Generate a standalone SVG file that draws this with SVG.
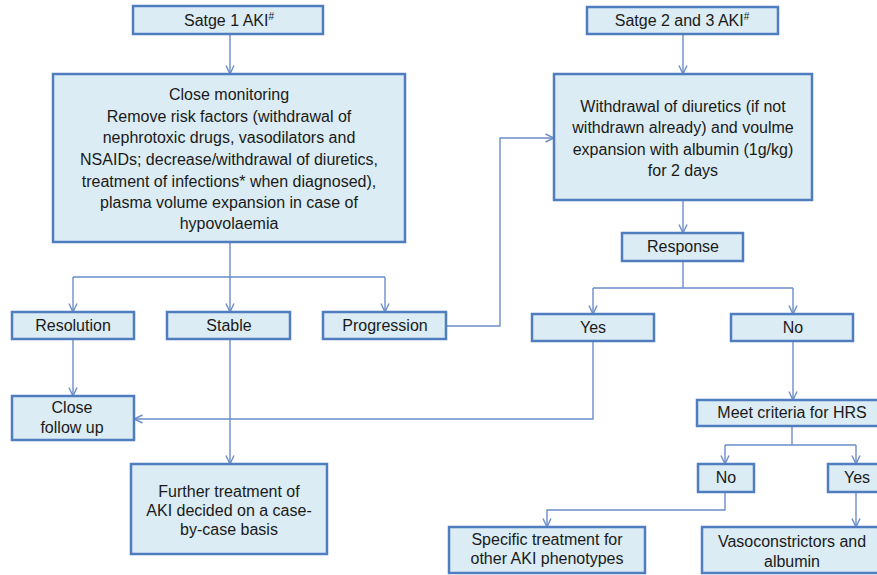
<svg xmlns="http://www.w3.org/2000/svg" width="877" height="575" viewBox="0 0 877 575">
<style>
.box{fill:#dbecf4;stroke:#4f7dbf;stroke-width:2.5}
.t{font-family:"Liberation Sans",Arial,sans-serif;font-size:16px;fill:#1a1a1a;text-anchor:middle}
.c{fill:none;stroke:#6b8dc9;stroke-width:1.4}
.a{marker-end:url(#ah)}
</style>
<defs>
<marker id="ah" viewBox="0 0 10 10" refX="9.5" refY="5" markerWidth="10" markerHeight="10" markerUnits="userSpaceOnUse" orient="auto">
<path d="M1,1 L9.5,5 L1,9" fill="none" stroke="#6b8dc9" stroke-width="1.4"/>
</marker>
</defs>
<rect width="877" height="575" fill="#ffffff"/>
<g id="connectors">
<path class="c a" d="M230,34 V74"/>
<path class="c a" d="M683,34 V74"/>
<path class="c" d="M230,242 V277 M73,277 H385"/>
<path class="c a" d="M73,277 V312"/>
<path class="c a" d="M230,277 V312"/>
<path class="c a" d="M385,277 V312"/>
<path class="c a" d="M73,339 V396"/>
<path class="c a" d="M230,339 V464"/>
<path class="c a" d="M446,326 H500 V138 H554"/>
<path class="c a" d="M683,200 V233"/>
<path class="c" d="M683,261 V288 M593,288 H793"/>
<path class="c a" d="M593,288 V314"/>
<path class="c a" d="M793,288 V314"/>
<path class="c a" d="M593,341 V419 H134"/>
<path class="c a" d="M793,341 V400"/>
<path class="c" d="M792,426 V445 M725,445 H856"/>
<path class="c a" d="M725,445 V464"/>
<path class="c a" d="M856,445 V464"/>
<path class="c a" d="M725,492 V510 H547 V527"/>
<path class="c a" d="M856,492 V527"/>
</g>
<g id="stage1">
<rect class="box" x="133" y="6" width="190" height="28"/>
<text class="t" x="229" y="26">Satge 1 AKI<tspan font-size="10" dy="-6">#</tspan></text>
</g>
<g id="stage23">
<rect class="box" x="587" y="7" width="191" height="27"/>
<text class="t" x="682" y="26">Satge 2 and 3 AKI<tspan font-size="10" dy="-6">#</tspan></text>
</g>
<g id="monitoring">
<rect class="box" x="53" y="74" width="352" height="168"/>
<text class="t" x="229"><tspan x="229" y="100">Close monitoring</tspan><tspan x="229" y="122">Remove risk factors (withdrawal of</tspan><tspan x="229" y="143">nephrotoxic drugs, vasodilators and</tspan><tspan x="229" y="165">NSAIDs; decrease/withdrawal of diuretics,</tspan><tspan x="229" y="187">treatment of infections* when diagnosed),</tspan><tspan x="229" y="208">plasma volume expansion in case of</tspan><tspan x="229" y="229">hypovolaemia</tspan></text>
</g>
<g id="withdrawal">
<rect class="box" x="554" y="74" width="258" height="126"/>
<text class="t" x="683"><tspan x="683" y="112">Withdrawal of diuretics (if not</tspan><tspan x="683" y="133">withdrawn already) and voulme</tspan><tspan x="683" y="155">expansion with albumin (1g/kg)</tspan><tspan x="683" y="176">for 2 days</tspan></text>
</g>
<g id="resolution">
<rect class="box" x="12" y="312" width="122" height="27"/>
<text class="t" x="73" y="331">Resolution</text>
</g>
<g id="stable">
<rect class="box" x="167" y="312" width="123" height="27"/>
<text class="t" x="229" y="331">Stable</text>
</g>
<g id="progression">
<rect class="box" x="323" y="312" width="123" height="27"/>
<text class="t" x="385" y="331">Progression</text>
</g>
<g id="response">
<rect class="box" x="622" y="233" width="121" height="28"/>
<text class="t" x="683" y="252">Response</text>
</g>
<g id="yes1">
<rect class="box" x="532" y="314" width="122" height="27"/>
<text class="t" x="593" y="333">Yes</text>
</g>
<g id="no1">
<rect class="box" x="731" y="314" width="122" height="27"/>
<text class="t" x="793" y="333">No</text>
</g>
<g id="followup">
<rect class="box" x="12" y="396" width="122" height="44"/>
<text class="t" x="72"><tspan x="72" y="413">Close</tspan><tspan x="72" y="433">follow up</tspan></text>
</g>
<g id="further">
<rect class="box" x="131" y="464" width="196" height="90"/>
<text class="t" x="229"><tspan x="229" y="497">Further treatment of</tspan><tspan x="229" y="516">AKI decided on a case-</tspan><tspan x="229" y="535">by-case basis</tspan></text>
</g>
<g id="hrs">
<rect class="box" x="697" y="400" width="190" height="26"/>
<text class="t" x="792" y="418">Meet criteria for HRS</text>
</g>
<g id="no2">
<rect class="box" x="698" y="464" width="56" height="28"/>
<text class="t" x="726" y="483">No</text>
</g>
<g id="yes2">
<rect class="box" x="828" y="464" width="56" height="28"/>
<text class="t" x="857" y="483">Yes</text>
</g>
<g id="specific">
<rect class="box" x="449" y="527" width="196" height="46"/>
<text class="t" x="547"><tspan x="547" y="545">Specific treatment for</tspan><tspan x="547" y="564">other AKI phenotypes</tspan></text>
</g>
<g id="vaso">
<rect class="box" x="702" y="527" width="182" height="46"/>
<text class="t" x="792"><tspan x="792" y="547">Vasoconstrictors and</tspan><tspan x="792" y="567">albumin</tspan></text>
</g>
</svg>
